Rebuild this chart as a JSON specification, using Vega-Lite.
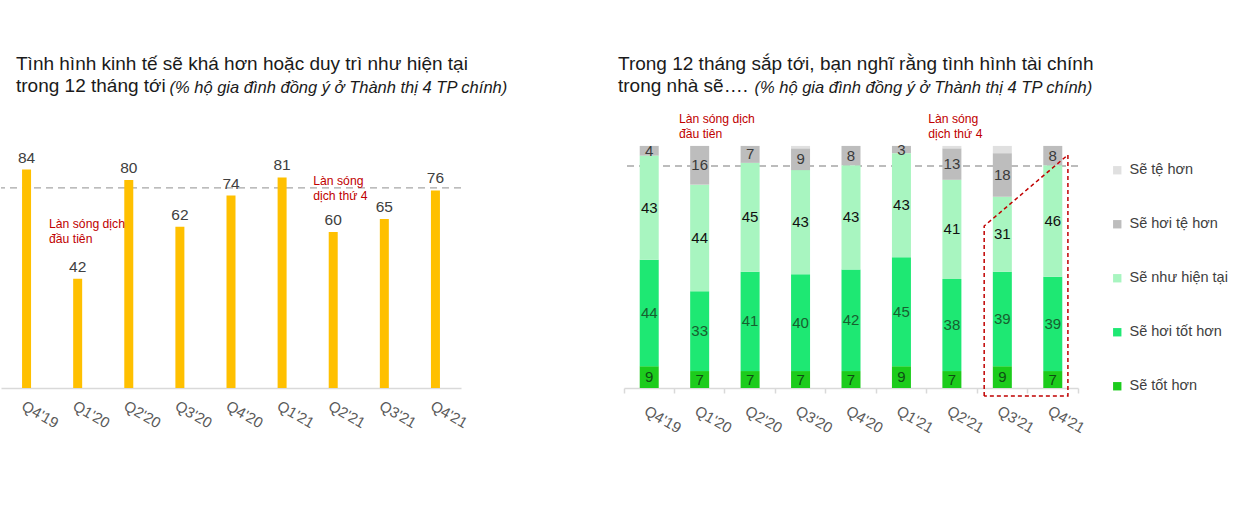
{
  "$schema": "https://vega.github.io/schema/vega-lite/v6.json",
  "padding": {"left": 0, "top": 55, "right": 5, "bottom": 5},
  "bounds": "flush",
  "spacing": 163,
  "config": {
    "font": "Liberation Sans",
    "view": {"stroke": null},
    "axis": {"grid": false},
    "title": {
      "anchor": "start",
      "frame": "group",
      "baseline": "bottom",
      "fontSize": 19,
      "fontWeight": "normal",
      "lineHeight": 22,
      "color": "#1a1a1a",
      "offset": -17
    }
  },
  "datasets": {
    "econ": [
      {"q": "Q4'19", "v": 84},
      {"q": "Q1'20", "v": 42},
      {"q": "Q2'20", "v": 80},
      {"q": "Q3'20", "v": 62},
      {"q": "Q4'20", "v": 74},
      {"q": "Q1'21", "v": 81},
      {"q": "Q2'21", "v": 60},
      {"q": "Q3'21", "v": 65},
      {"q": "Q4'21", "v": 76}
    ],
    "fin": [
      {"q": "Q4'19", "cat": "Sẽ tốt hơn", "ord": 1, "v": 9},
      {"q": "Q4'19", "cat": "Sẽ hơi tốt hơn", "ord": 2, "v": 44},
      {"q": "Q4'19", "cat": "Sẽ như hiện tại", "ord": 3, "v": 43},
      {"q": "Q4'19", "cat": "Sẽ hơi tệ hơn", "ord": 4, "v": 4},
      {"q": "Q4'19", "cat": "Sẽ tệ hơn", "ord": 5, "v": 0},
      {"q": "Q1'20", "cat": "Sẽ tốt hơn", "ord": 1, "v": 7},
      {"q": "Q1'20", "cat": "Sẽ hơi tốt hơn", "ord": 2, "v": 33},
      {"q": "Q1'20", "cat": "Sẽ như hiện tại", "ord": 3, "v": 44},
      {"q": "Q1'20", "cat": "Sẽ hơi tệ hơn", "ord": 4, "v": 16},
      {"q": "Q1'20", "cat": "Sẽ tệ hơn", "ord": 5, "v": 0},
      {"q": "Q2'20", "cat": "Sẽ tốt hơn", "ord": 1, "v": 7},
      {"q": "Q2'20", "cat": "Sẽ hơi tốt hơn", "ord": 2, "v": 41},
      {"q": "Q2'20", "cat": "Sẽ như hiện tại", "ord": 3, "v": 45},
      {"q": "Q2'20", "cat": "Sẽ hơi tệ hơn", "ord": 4, "v": 7},
      {"q": "Q2'20", "cat": "Sẽ tệ hơn", "ord": 5, "v": 0},
      {"q": "Q3'20", "cat": "Sẽ tốt hơn", "ord": 1, "v": 7},
      {"q": "Q3'20", "cat": "Sẽ hơi tốt hơn", "ord": 2, "v": 40},
      {"q": "Q3'20", "cat": "Sẽ như hiện tại", "ord": 3, "v": 43},
      {"q": "Q3'20", "cat": "Sẽ hơi tệ hơn", "ord": 4, "v": 9},
      {"q": "Q3'20", "cat": "Sẽ tệ hơn", "ord": 5, "v": 1},
      {"q": "Q4'20", "cat": "Sẽ tốt hơn", "ord": 1, "v": 7},
      {"q": "Q4'20", "cat": "Sẽ hơi tốt hơn", "ord": 2, "v": 42},
      {"q": "Q4'20", "cat": "Sẽ như hiện tại", "ord": 3, "v": 43},
      {"q": "Q4'20", "cat": "Sẽ hơi tệ hơn", "ord": 4, "v": 8},
      {"q": "Q4'20", "cat": "Sẽ tệ hơn", "ord": 5, "v": 0},
      {"q": "Q1'21", "cat": "Sẽ tốt hơn", "ord": 1, "v": 9},
      {"q": "Q1'21", "cat": "Sẽ hơi tốt hơn", "ord": 2, "v": 45},
      {"q": "Q1'21", "cat": "Sẽ như hiện tại", "ord": 3, "v": 43},
      {"q": "Q1'21", "cat": "Sẽ hơi tệ hơn", "ord": 4, "v": 3},
      {"q": "Q1'21", "cat": "Sẽ tệ hơn", "ord": 5, "v": 0},
      {"q": "Q2'21", "cat": "Sẽ tốt hơn", "ord": 1, "v": 7},
      {"q": "Q2'21", "cat": "Sẽ hơi tốt hơn", "ord": 2, "v": 38},
      {"q": "Q2'21", "cat": "Sẽ như hiện tại", "ord": 3, "v": 41},
      {"q": "Q2'21", "cat": "Sẽ hơi tệ hơn", "ord": 4, "v": 13},
      {"q": "Q2'21", "cat": "Sẽ tệ hơn", "ord": 5, "v": 1},
      {"q": "Q3'21", "cat": "Sẽ tốt hơn", "ord": 1, "v": 9},
      {"q": "Q3'21", "cat": "Sẽ hơi tốt hơn", "ord": 2, "v": 39},
      {"q": "Q3'21", "cat": "Sẽ như hiện tại", "ord": 3, "v": 31},
      {"q": "Q3'21", "cat": "Sẽ hơi tệ hơn", "ord": 4, "v": 18},
      {"q": "Q3'21", "cat": "Sẽ tệ hơn", "ord": 5, "v": 3},
      {"q": "Q4'21", "cat": "Sẽ tốt hơn", "ord": 1, "v": 7},
      {"q": "Q4'21", "cat": "Sẽ hơi tốt hơn", "ord": 2, "v": 39},
      {"q": "Q4'21", "cat": "Sẽ như hiện tại", "ord": 3, "v": 46},
      {"q": "Q4'21", "cat": "Sẽ hơi tệ hơn", "ord": 4, "v": 8},
      {"q": "Q4'21", "cat": "Sẽ tệ hơn", "ord": 5, "v": 0}
    ],
    "notesL": [
      {"px": 0.44, "py": 65.4, "note": "Làn sóng dịch|đầu tiên"},
      {"px": 5.61, "py": 81.9, "note": "Làn sóng|dịch thứ 4"}
    ],
    "notesR": [
      {"px": 0.59, "py": 113.6, "note": "Làn sóng dịch|đầu tiên"},
      {"px": 5.53, "py": 113.6, "note": "Làn sóng|dịch thứ 4"}
    ],
    "box": [
      {"k": 1, "px": 6.64, "py": -3.3},
      {"k": 2, "px": 6.64, "py": 66.9},
      {"k": 3, "px": 8.3, "py": 96.3},
      {"k": 4, "px": 8.3, "py": -3.3},
      {"k": 5, "px": 6.64, "py": -3.3}
    ]
  },
  "hconcat": [
    {
      "width": 460,
      "height": 260,
      "title": {
        "text": ["Tình hình kinh tế sẽ khá hơn hoặc duy trì như hiện tại", "trong 12 tháng tới"],
        "dx": 15
      },
      "layer": [
        {
          "data": {"values": [{"ref": 77}]},
          "mark": {"type": "rule", "color": "#a6a6a6", "strokeDash": [7, 5], "strokeWidth": 1.3},
          "encoding": {
            "y": {"field": "ref", "type": "quantitative", "scale": {"domain": [0, 100], "nice": false}, "axis": null}
          }
        },
        {
          "data": {"name": "econ"},
          "mark": {"type": "bar", "color": "#ffc000", "width": 9},
          "encoding": {
            "x": {
              "field": "q", "type": "nominal", "sort": null,
              "scale": {"paddingInner": 0, "paddingOuter": 0},
              "axis": {
                "title": null, "ticks": false, "labelAngle": 30, "labelFontSize": 15,
                "labelColor": "#595959", "labelPadding": 10, "domainColor": "#d9d9d9", "domainWidth": 1.5
              }
            },
            "y": {"field": "v", "type": "quantitative", "axis": null}
          }
        },
        {
          "data": {"name": "econ"},
          "mark": {"type": "text", "baseline": "alphabetic", "dy": -7, "fontSize": 15.5, "color": "#404040"},
          "encoding": {
            "x": {"field": "q", "type": "nominal", "sort": null, "scale": {"type": "point", "padding": 0.5}, "axis": null},
            "y": {"field": "v", "type": "quantitative", "axis": null},
            "text": {"field": "v"}
          }
        },
        {
          "data": {"name": "notesL"},
          "mark": {"type": "text", "align": "left", "baseline": "top", "lineBreak": "|", "lineHeight": 15, "fontSize": 12.2, "color": "#c00000"},
          "encoding": {
            "x": {
              "field": "px", "type": "quantitative",
              "scale": {"domain": [-0.5, 8.5], "nice": false, "zero": false},
              "axis": {
                "orient": "top", "labels": false, "ticks": false, "domain": false,
                "title": "(% hộ gia đình đồng ý ở Thành thị 4 TP chính)",
                "titleFontStyle": "italic", "titleFontWeight": "normal", "titleFontSize": 16.5,
                "titleColor": "#1a1a1a", "titleAnchor": "start", "titleAlign": "left",
                "titleBaseline": "alphabetic", "titleX": 168, "titleY": -36
              }
            },
            "y": {"field": "py", "type": "quantitative", "axis": null},
            "text": {"field": "note"}
          }
        }
      ],
      "resolve": {"scale": {"x": "independent"}}
    },
    {
      "width": 454,
      "height": 260,
      "title": {
        "text": ["Trong 12 tháng sắp tới, bạn nghĩ rằng tình hình tài chính", "trong nhà sẽ…."],
        "dx": -6
      },
      "layer": [
        {
          "data": {"values": [{"ref": 91.7}]},
          "mark": {"type": "rule", "color": "#a6a6a6", "strokeDash": [7, 5], "strokeWidth": 1.3},
          "encoding": {
            "y": {"field": "ref", "type": "quantitative", "scale": {"domain": [0, 107.4], "nice": false}, "axis": null}
          }
        },
        {
          "data": {"name": "fin"},
          "mark": {"type": "bar", "width": 19},
          "encoding": {
            "x": {
              "field": "q", "type": "nominal", "sort": null,
              "scale": {"paddingInner": 0, "paddingOuter": 0},
              "axis": {
                "title": null, "labelAngle": 30, "labelFontSize": 15, "labelColor": "#595959",
                "labelPadding": 10, "domainColor": "#d9d9d9", "domainWidth": 1.5,
                "ticks": true, "tickColor": "#d9d9d9", "tickSize": 5, "tickWidth": 1.5,
                "bandPosition": 1, "tickExtra": true
              }
            },
            "y": {"field": "v", "type": "quantitative", "stack": "zero", "axis": null},
            "order": {"field": "ord", "type": "quantitative"},
            "color": {
              "field": "cat", "type": "nominal",
              "scale": {
                "domain": ["Sẽ tệ hơn", "Sẽ hơi tệ hơn", "Sẽ như hiện tại", "Sẽ hơi tốt hơn", "Sẽ tốt hơn"],
                "range": ["#e0e0e0", "#bdbdbd", "#a8f5c0", "#1ee873", "#1ccc1c"]
              },
              "legend": {
                "title": null, "orient": "none", "legendX": 1109, "legendY": 35,
                "symbolType": "square", "symbolSize": 70, "symbolStrokeWidth": 0,
                "labelFontSize": 14.5, "labelColor": "#404040", "labelOffset": 5, "rowPadding": 39
              }
            }
          }
        },
        {
          "data": {"name": "fin"},
          "transform": [{"filter": "datum.v > 0 && datum.ord < 5"}],
          "mark": {"type": "text", "baseline": "middle", "fontSize": 15},
          "encoding": {
            "x": {"field": "q", "type": "nominal", "sort": null, "scale": {"type": "point", "padding": 0.5}, "axis": null},
            "y": {"field": "v", "type": "quantitative", "stack": "zero", "bandPosition": 0.5, "axis": null},
            "detail": {"field": "cat"},
            "order": {"field": "ord", "type": "quantitative"},
            "text": {"field": "v"},
            "color": {
              "condition": [
                {"test": "datum.ord == 1", "value": "#0e4d14"},
                {"test": "datum.ord == 2", "value": "#17602f"},
                {"test": "datum.ord == 3", "value": "#111111"}
              ],
              "value": "#3a3a3a"
            }
          }
        },
        {
          "data": {"name": "box"},
          "mark": {"type": "line", "color": "#c00000", "strokeDash": [4, 3], "strokeWidth": 1.5},
          "encoding": {
            "x": {"field": "px", "type": "quantitative", "scale": {"domain": [-0.5, 8.5], "nice": false, "zero": false}, "axis": null},
            "y": {"field": "py", "type": "quantitative", "axis": null},
            "order": {"field": "k", "type": "quantitative"}
          }
        },
        {
          "data": {"name": "notesR"},
          "mark": {"type": "text", "align": "left", "baseline": "top", "lineBreak": "|", "lineHeight": 15, "fontSize": 12.2, "color": "#c00000"},
          "encoding": {
            "x": {
              "field": "px", "type": "quantitative",
              "scale": {"domain": [-0.5, 8.5], "nice": false, "zero": false},
              "axis": {
                "orient": "top", "labels": false, "ticks": false, "domain": false,
                "title": "(% hộ gia đình đồng ý ở Thành thị 4 TP chính)",
                "titleFontStyle": "italic", "titleFontWeight": "normal", "titleFontSize": 16.5,
                "titleColor": "#1a1a1a", "titleAnchor": "start", "titleAlign": "left",
                "titleBaseline": "alphabetic", "titleX": 130, "titleY": -36
              }
            },
            "y": {"field": "py", "type": "quantitative", "axis": null},
            "text": {"field": "note"}
          }
        }
      ],
      "resolve": {"scale": {"x": "independent"}}
    }
  ]
}
